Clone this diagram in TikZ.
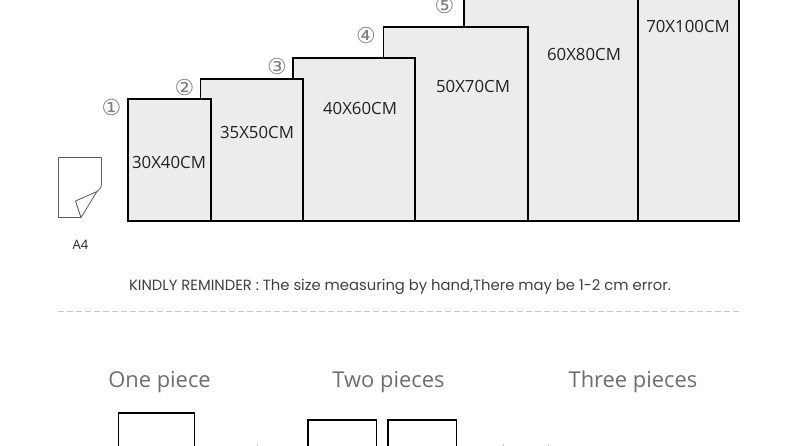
\documentclass[tikz,border=0pt]{standalone}
\usepackage{fontspec}
\setmainfont{Open Sans}
\newfontfamily\noticefont{Poppins}
\newfontfamily\circfont{DejaVu Sans}
\definecolor{panelfill}{HTML}{ECECEC}
\definecolor{numgrey}{HTML}{808080}
\definecolor{headgrey}{HTML}{6E6E6E}
\definecolor{dashgrey}{HTML}{C8C8C8}
\definecolor{textdark}{HTML}{222222}
\tikzset{
  sizebox/.style={draw=black,line width=1.5pt,fill=panelfill},
  framebox/.style={draw=black,line width=1.5pt},
  sizelabel/.style={inner sep=0pt,text=textdark,font=\fontsize{16.8}{18}\selectfont},
  numlabel/.style={inner sep=0pt,text=numgrey,font=\circfont\fontsize{22}{24}\selectfont},
  headlabel/.style={inner sep=0pt,text=headgrey,font=\fontsize{21.9}{24}\selectfont},
  sheet/.style={draw=black!65,line width=0.8pt,line join=round},
  speck/.style={draw=black!20,line width=0.8pt},
}
\begin{document}
\begin{tikzpicture}[x=1pt,y=-1pt]
\useasboundingbox (0,0) rectangle (800,446);
\clip (0,0) rectangle (800,446);
% size panels, largest at the back
\draw[sizebox] (540,-40) rectangle (739,221);
\draw[sizebox] (464,-20) rectangle (638,221);
\draw[sizebox] (383.5,27) rectangle (528,221);
\draw[sizebox] (293,58) rectangle (415,221);
\draw[sizebox] (200.5,79) rectangle (303,221);
\draw[sizebox] (128,99) rectangle (210.9,221);
\node[sizelabel] (s1) at (169,162) {30X40CM};
\node[sizelabel] (s2) at (257,132) {35X50CM};
\node[sizelabel] (s3) at (360,108) {40X60CM};
\node[sizelabel] (s4) at (473,86) {50X70CM};
\node[sizelabel] (s5) at (584,54) {60X80CM};
\node[sizelabel] (s6) at (688,26) {70X100CM};
\node[numlabel] (n1) at (111.5,107) {①};
\node[numlabel] (n2) at (184.5,87) {②};
\node[numlabel] (n3) at (277,66) {③};
\node[numlabel] (n4) at (366,35.5) {④};
\node[numlabel] (n5) at (444.5,5) {⑤};
% A4 sheet
\draw[sheet] (81,217.5) -- (58.5,217.5) -- (58.5,157.5) -- (101.5,157.5) -- (101.5,184)
  .. controls (101.5,188) and (99,190) .. (97,191.5) -- (75.5,201) -- (81,217.5) -- (97,191.5);
\node[inner sep=0pt,text=textdark,font=\fontsize{13}{15}\selectfont] (a4) at (80.5,244.5) {A4};
% reminder
\node[inner sep=0pt,text=black!75,font=\noticefont\fontsize{14.8}{17}\selectfont] (note) at (400,286.5) {KINDLY REMINDER : The size measuring by hand,There may be 1-2 cm error.};
\coordinate (dl) at (58,311.5);
\coordinate (dr) at (740,311.5);
\draw[dashgrey,line width=0.8pt,dash pattern=on 6pt off 3pt] (dl) -- (dr);
% headers
\node[headlabel] (h1) at (159.5,382) {One piece};
\node[headlabel] (h2) at (388.5,382) {Two pieces};
\node[headlabel] (h3) at (633,382) {Three pieces};
% frames cut by the lower edge
\draw[framebox] (118.5,413) rectangle (194.5,470);
\draw[framebox] (308,420) rectangle (376.5,470);
\draw[framebox] (388,420) rectangle (456.5,470);
% specks at the lower edge
\draw[speck] (257.5,444) -- (257.5,446);
\draw[speck] (503,444) -- (503,446);
\draw[speck] (548,444) -- (548,446);
\end{tikzpicture}
\end{document}
